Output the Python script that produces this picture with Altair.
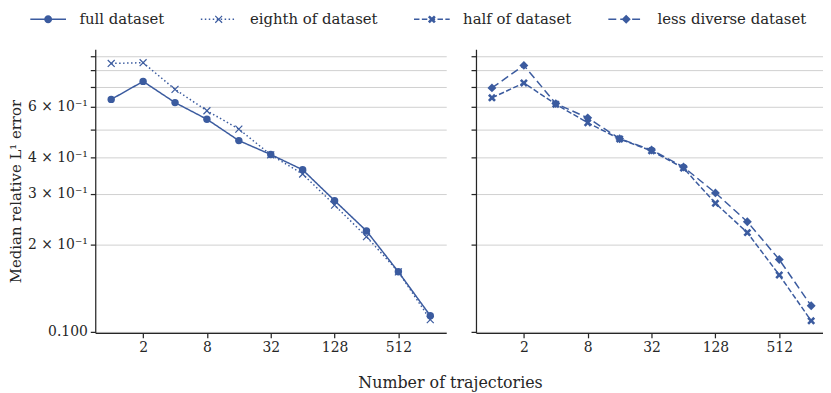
import math
import altair as alt
import pandas as pd

# ---------------- data ----------------
trajectories = [1, 2, 4, 8, 16, 32, 64, 128, 256, 512, 1024]
full_dataset = [0.636, 0.734, 0.620, 0.543, 0.458, 0.410, 0.363, 0.284, 0.223, 0.161, 0.1135]
eighth_dataset = [0.847, 0.852, 0.689, 0.581, 0.502, 0.409, 0.351, 0.274, 0.213, 0.161, 0.110]
half_dataset = [0.644, 0.725, 0.612, 0.528, 0.464, 0.422, 0.368, 0.278, 0.220, 0.157, 0.109]
less_diverse = [0.697, 0.834, 0.615, 0.549, 0.465, 0.425, 0.371, 0.302, 0.240, 0.1775, 0.1228]

series_names = ["full dataset", "eighth of dataset", "half of dataset", "less diverse dataset"]
left_series = ["full dataset", "eighth of dataset"]
right_series = ["half of dataset", "less diverse dataset"]

x_ticks = [2, 8, 32, 128, 512]
y_ticks = [0.1, 0.2, 0.3, 0.4, 0.5, 0.6, 0.7, 0.8, 0.9]
y_tick_labels = ["0.100", "2 × 10⁻¹", "3 × 10⁻¹", "4 × 10⁻¹", "", "6 × 10⁻¹", "", "", ""]

x_title = "Number of trajectories"
y_title = "Median relative L¹ error"

# ---------------- styling ----------------
BLUE = "#3b5b9f"
INK = "#262626"
FONT = "DejaVu Serif"

rows = []
for name, vals in zip(series_names, [full_dataset, eighth_dataset, half_dataset, less_diverse]):
    for t, v in zip(trajectories, vals):
        rows.append({"series": name, "trajectories": t, "error": v})
df = pd.DataFrame(rows)

dash_list = [[1, 0], [1.5, 2.5], [5.5, 2.4], [8, 4]]


def rot_x(a, t):
    pts = [(t, t), (t, a), (-t, a), (-t, t), (-a, t), (-a, -t), (-t, -t), (-t, -a),
           (t, -a), (t, -t), (a, -t), (a, t)]
    r = [((x - y) / math.sqrt(2), (x + y) / math.sqrt(2)) for x, y in pts]
    return "M" + "L".join(f"{x:.3f},{y:.3f}" for x, y in r) + "Z"


# plot marker shapes (unit square)
X_THIN = "M-1,-1L1,1M1,-1L-1,1"
X_FILLED = rot_x(1.0, 0.3)

# legend symbols: filled shapes only (line drawn as thin filled dashes + marker)
UNIT = 6.0  # px per legend-path unit (symbolSize = 144)
HALF = 18.0
LW = 0.7  # half line width in px


def dash_path(on, off):
    segs = []
    s = -HALF
    h = LW / UNIT
    while s < HALF - 1e-6:
        e = min(s + on, HALF)
        segs.append(f"M{s / UNIT:.3f},{-h:.3f}H{e / UNIT:.3f}V{h:.3f}H{s / UNIT:.3f}Z")
        s += on + off
    return "".join(segs)


def circ(r):
    r = r / UNIT
    return f"M{r:.3f},0A{r:.3f},{r:.3f} 0 1,1 {-r:.3f},0A{r:.3f},{r:.3f} 0 1,1 {r:.3f},0Z"


def diamond(h):
    h = h / UNIT
    return f"M0,{-h:.3f}L{h:.3f},0L0,{h:.3f}L{-h:.3f},0Z"


legend_paths = [
    dash_path(36, 0) + circ(4.0),
    dash_path(1.5, 2.5) + rot_x(4.9 / UNIT, 0.6 / UNIT),
    dash_path(5.5, 2.4) + rot_x(4.3 / UNIT, 1.3 / UNIT),
    dash_path(8, 4) + diamond(4.6),
]

marker_style = {
    "full dataset": dict(shape="circle", filled=True, size=56),
    "eighth of dataset": dict(shape=X_THIN, filled=False, size=49, strokeWidth=1.2),
    "half of dataset": dict(shape=X_FILLED, filled=True, size=76),
    "less diverse dataset": dict(shape="diamond", filled=True, size=81),
}

label_expr = ""
for v, lab in zip(y_ticks, y_tick_labels):
    label_expr += f"round(datum.value*10)=={int(round(v * 10))} ? '{lab}' : "
label_expr += "''"

y_scale = alt.Scale(type="log", domain=[0.099, 0.948], nice=False)
# reversed order so its (hidden) legend is not merged with the shape legend
dash_scale = alt.Scale(domain=series_names[::-1], range=dash_list[::-1])

H = 286


def panel(names, left):
    if left:
        width = 354
        x_scale = alt.Scale(type="log", base=2, domain=[2 ** -0.5, 2 ** 10.5], nice=False)
        yaxis = alt.Axis(values=y_ticks, labelExpr=label_expr, grid=True, labelOverlap=False,
                         title=y_title, titleFontSize=15, titleFontWeight="normal", titlePadding=4)
    else:
        width = 350
        x_scale = alt.Scale(type="log", base=2, domain=[2 ** -0.5, 2 ** 10.37], nice=False)
        yaxis = alt.Axis(values=y_ticks, labels=False, grid=True, title=None)
    xaxis = alt.Axis(values=x_ticks, format="d", grid=False, labelOverlap=False, title=None)

    x = alt.X("trajectories:Q", scale=x_scale, axis=xaxis)
    y = alt.Y("error:Q", scale=y_scale, axis=yaxis)

    base = alt.Chart(df).transform_filter(alt.FieldOneOfPredicate(field="series", oneOf=names))
    lines = base.mark_line(color=BLUE, strokeWidth=1.5).encode(
        x=x, y=y,
        strokeDash=alt.StrokeDash("series:N", scale=dash_scale, legend=None),
    )
    layers = [lines]
    for n in names:
        st = marker_style[n]
        layers.append(
            alt.Chart(df).transform_filter(alt.datum.series == n)
            .mark_point(color=BLUE, opacity=1, **st)
            .encode(x=x, y=y)
        )
    if left:
        legend_layer = alt.Chart(df).transform_filter("false").mark_point(
            filled=True, fill=BLUE, stroke=BLUE, strokeWidth=0.1, opacity=1
        ).encode(
            x=x, y=y,
            shape=alt.Shape("series:N",
                            scale=alt.Scale(domain=series_names, range=legend_paths),
                            legend=alt.Legend(orient="none", legendX=-55, legendY=-38,
                                              direction="horizontal", columns=4,
                                              columnPadding=36, symbolSize=144,
                                              symbolStrokeWidth=0.1, symbolFillColor=BLUE,
                                              symbolStrokeColor=BLUE, symbolOpacity=1,
                                              labelOffset=24, labelFont=FONT,
                                              labelFontSize=15, labelColor=INK,
                                              padding=0, title=None)),
        )
        layers.append(legend_layer)
    return alt.layer(*layers).properties(width=width, height=H)


chart = alt.hconcat(panel(left_series, True), panel(right_series, False), spacing=24).properties(
    padding={"left": 0, "top": 2, "right": 0, "bottom": 0},
    title=alt.TitleParams(text=x_title, orient="bottom", anchor="middle", font=FONT,
                          fontSize=16, fontWeight="normal", color=INK, dx=35, offset=21),
).configure_view(stroke=None).configure_axis(
    domainColor=INK, domainWidth=1.25, tickColor=INK, tickWidth=1.25, tickSize=5,
    labelFont=FONT, labelFontSize=14, labelColor=INK, labelPadding=3,
    titleFont=FONT, titleColor=INK,
    gridColor="#cfcfcf", gridWidth=1,
)

chart.save("out.html", embed_options={"renderer": "svg", "actions": False})
